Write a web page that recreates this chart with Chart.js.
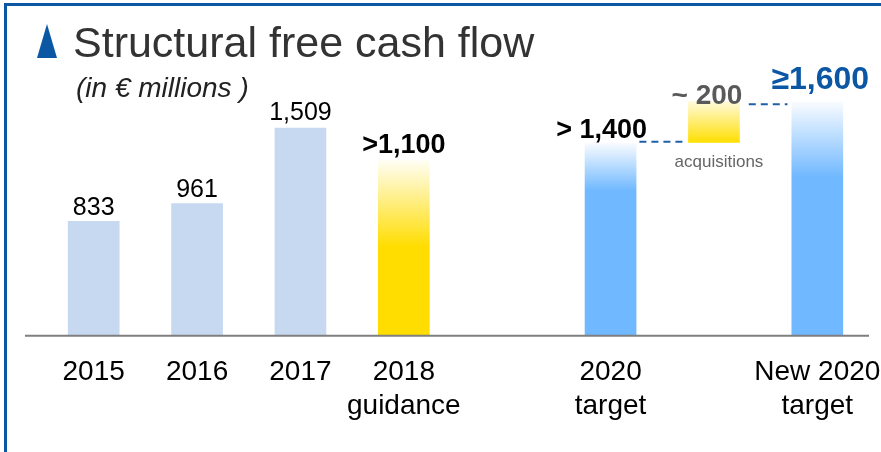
<!DOCTYPE html>
<html>
<head>
<meta charset="utf-8">
<title>Structural free cash flow</title>
<script src="https://cdn.jsdelivr.net/npm/chart.js@4.4.1/dist/chart.umd.min.js"></script>
<style>
  html, body { margin: 0; padding: 0; background: #fff; }
  canvas { display: block; }
</style>
</head>
<body>
<canvas id="fcfChart" width="881" height="452"></canvas>
<script>
// categories on the x axis (the empty ones are the gap and the acquisitions step)
const categories = ['2015', '2016', '2017', ['2018', 'guidance'], '', ['2020', 'target'], '', ['New 2020', 'target']];

// bar heights as drawn on the slide (the guidance / target bars are not to scale)
const barValues = [833, 961, 1509, 1275, null, 1400, [1400, 1700], 1700];

// text printed above each bar
const valueLabels = ['833', '961', '1,509', '>1,100', '', '> 1,400', '~ 200', '\u22651,600'];

const FONT = '"Liberation Sans", Arial, sans-serif';
const FRAME_BLUE = '#0B57A4';

// plain bars are light blue, forecast bars get a white fade on top
function barColor(ctx) {
  const chart = ctx.chart;
  const i = ctx.dataIndex;
  const v = barValues[i];
  if (v == null) return 'rgba(0,0,0,0)';
  if (i < 3) return '#C6D9F1';
  const fallback = i === 3 || i === 6 ? '#FFDD00' : '#70B8FF';
  if (!chart.chartArea || !chart.scales.y) return fallback;

  const y = chart.scales.y;
  const top = y.getPixelForValue(Array.isArray(v) ? v[1] : v);
  const bottom = y.getPixelForValue(Array.isArray(v) ? v[0] : 0);
  if (!isFinite(top) || !isFinite(bottom)) return fallback;
  const c = chart.ctx;

  let g;
  if (i === 3) {
    g = c.createLinearGradient(0, top, 0, top + 87);
    g.addColorStop(0, '#FFFEF6');
    g.addColorStop(1, '#FFDD00');
  } else if (i === 6) {
    g = c.createLinearGradient(0, top, 0, bottom);
    g.addColorStop(0, '#FFFADC');
    g.addColorStop(1, '#FFDF00');
  } else {
    const fade = i === 5 ? 48 : 76;
    g = c.createLinearGradient(0, top, 0, top + fade);
    g.addColorStop(0, '#FAFCFF');
    g.addColorStop(1, '#70B8FF');
  }
  return g;
}

// frame, title and subtitle of the slide
const slidePlugin = {
  id: 'slide',
  beforeDraw(chart) {
    const c = chart.ctx;
    c.save();
    c.fillStyle = FRAME_BLUE;
    c.fillRect(4, 3, 877, 3);
    c.fillRect(4, 3, 3, 449);

    // little triangle before the title
    c.beginPath();
    c.moveTo(37, 58);
    c.lineTo(47, 24);
    c.lineTo(57, 58);
    c.closePath();
    c.fill();

    c.fillStyle = '#333333';
    c.font = '43px ' + FONT;
    c.textBaseline = 'alphabetic';
    c.fillText('Structural free cash flow', 73, 57);

    c.fillStyle = '#222222';
    c.font = 'italic 28px ' + FONT;
    c.fillText('(in \u20ac millions )', 76, 97);
    c.restore();
  }
};

// axis line, value labels and dashed connectors
const annotationsPlugin = {
  id: 'annotations',
  afterDatasetsDraw(chart) {
    const c = chart.ctx;
    const area = chart.chartArea;
    const bars = chart.getDatasetMeta(0).data;

    c.save();
    c.strokeStyle = '#7F7F7F';
    c.lineWidth = 2;
    c.beginPath();
    c.moveTo(25, area.bottom);
    c.lineTo(area.right, area.bottom);
    c.stroke();

    const styles = {
      0: { font: '25px ', color: '#000', dx: 0, dy: -6 },
      1: { font: '25px ', color: '#000', dx: 0, dy: -6 },
      2: { font: '25px ', color: '#000', dx: 0, dy: -8 },
      3: { font: 'bold 27px ', color: '#000', dx: 0, dy: -7 },
      5: { font: 'bold 27px ', color: '#000', dx: -9, dy: -5 },
      6: { font: 'bold 28px ', color: '#595959', dx: -7, dy: 3 },
      7: { font: 'bold 32px ', color: FRAME_BLUE, dx: 3, dy: -12 }
    };

    c.textAlign = 'center';
    c.textBaseline = 'alphabetic';
    valueLabels.forEach((txt, i) => {
      if (!txt || !bars[i]) return;
      const s = styles[i];
      c.font = s.font + FONT;
      c.fillStyle = s.color;
      c.fillText(txt, bars[i].x + s.dx, bars[i].y + s.dy);
    });

    const acq = bars[6];
    c.font = '17px ' + FONT;
    c.fillStyle = '#666666';
    c.fillText('acquisitions', acq.x + 5, acq.base + 24);

    // dashed steps between the target bars
    const b5 = bars[5], b7 = bars[7];
    c.strokeStyle = '#1F5FA8';
    c.lineWidth = 2;
    c.setLineDash([7, 5]);
    c.beginPath();
    c.moveTo(b5.x + b5.width / 2 + 3, b5.y - 1);
    c.lineTo(acq.x - acq.width / 2 - 1, b5.y - 1);
    c.moveTo(acq.x + acq.width / 2 + 9, acq.y + 3);
    c.lineTo(b7.x - b7.width / 2 - 4, acq.y + 3);
    c.stroke();
    c.restore();
  }
};

const chartCtx = document.getElementById('fcfChart').getContext('2d');

const fcfChart = new Chart(chartCtx, {
  type: 'bar',
  data: {
    labels: categories,
    datasets: [{
      data: barValues,
      backgroundColor: barColor,
      borderWidth: 0,
      barPercentage: 0.5,
      categoryPercentage: 1.0
    }]
  },
  options: {
    responsive: false,
    devicePixelRatio: 1,
    animation: false,
    events: [],
    layout: {
      autoPadding: false,
      padding: { top: 60, left: 42, right: 12, bottom: 9 }
    },
    plugins: {
      legend: { display: false },
      tooltip: { enabled: false }
    },
    scales: {
      x: {
        grid: { display: false, drawTicks: false },
        border: { display: false },
        ticks: {
          color: '#000',
          font: { family: FONT, size: 28, lineHeight: 1.2 },
          padding: 20,
          maxRotation: 0,
          autoSkip: false
        },
        // the last label may run past the plot edge, like on the slide
        afterFit(scale) {
          scale.paddingLeft = 0;
          scale.paddingRight = 0;
        }
      },
      y: {
        display: false,
        min: 0,
        max: 2000
      }
    }
  },
  plugins: [slidePlugin, annotationsPlugin]
});
</script>
</body>
</html>
